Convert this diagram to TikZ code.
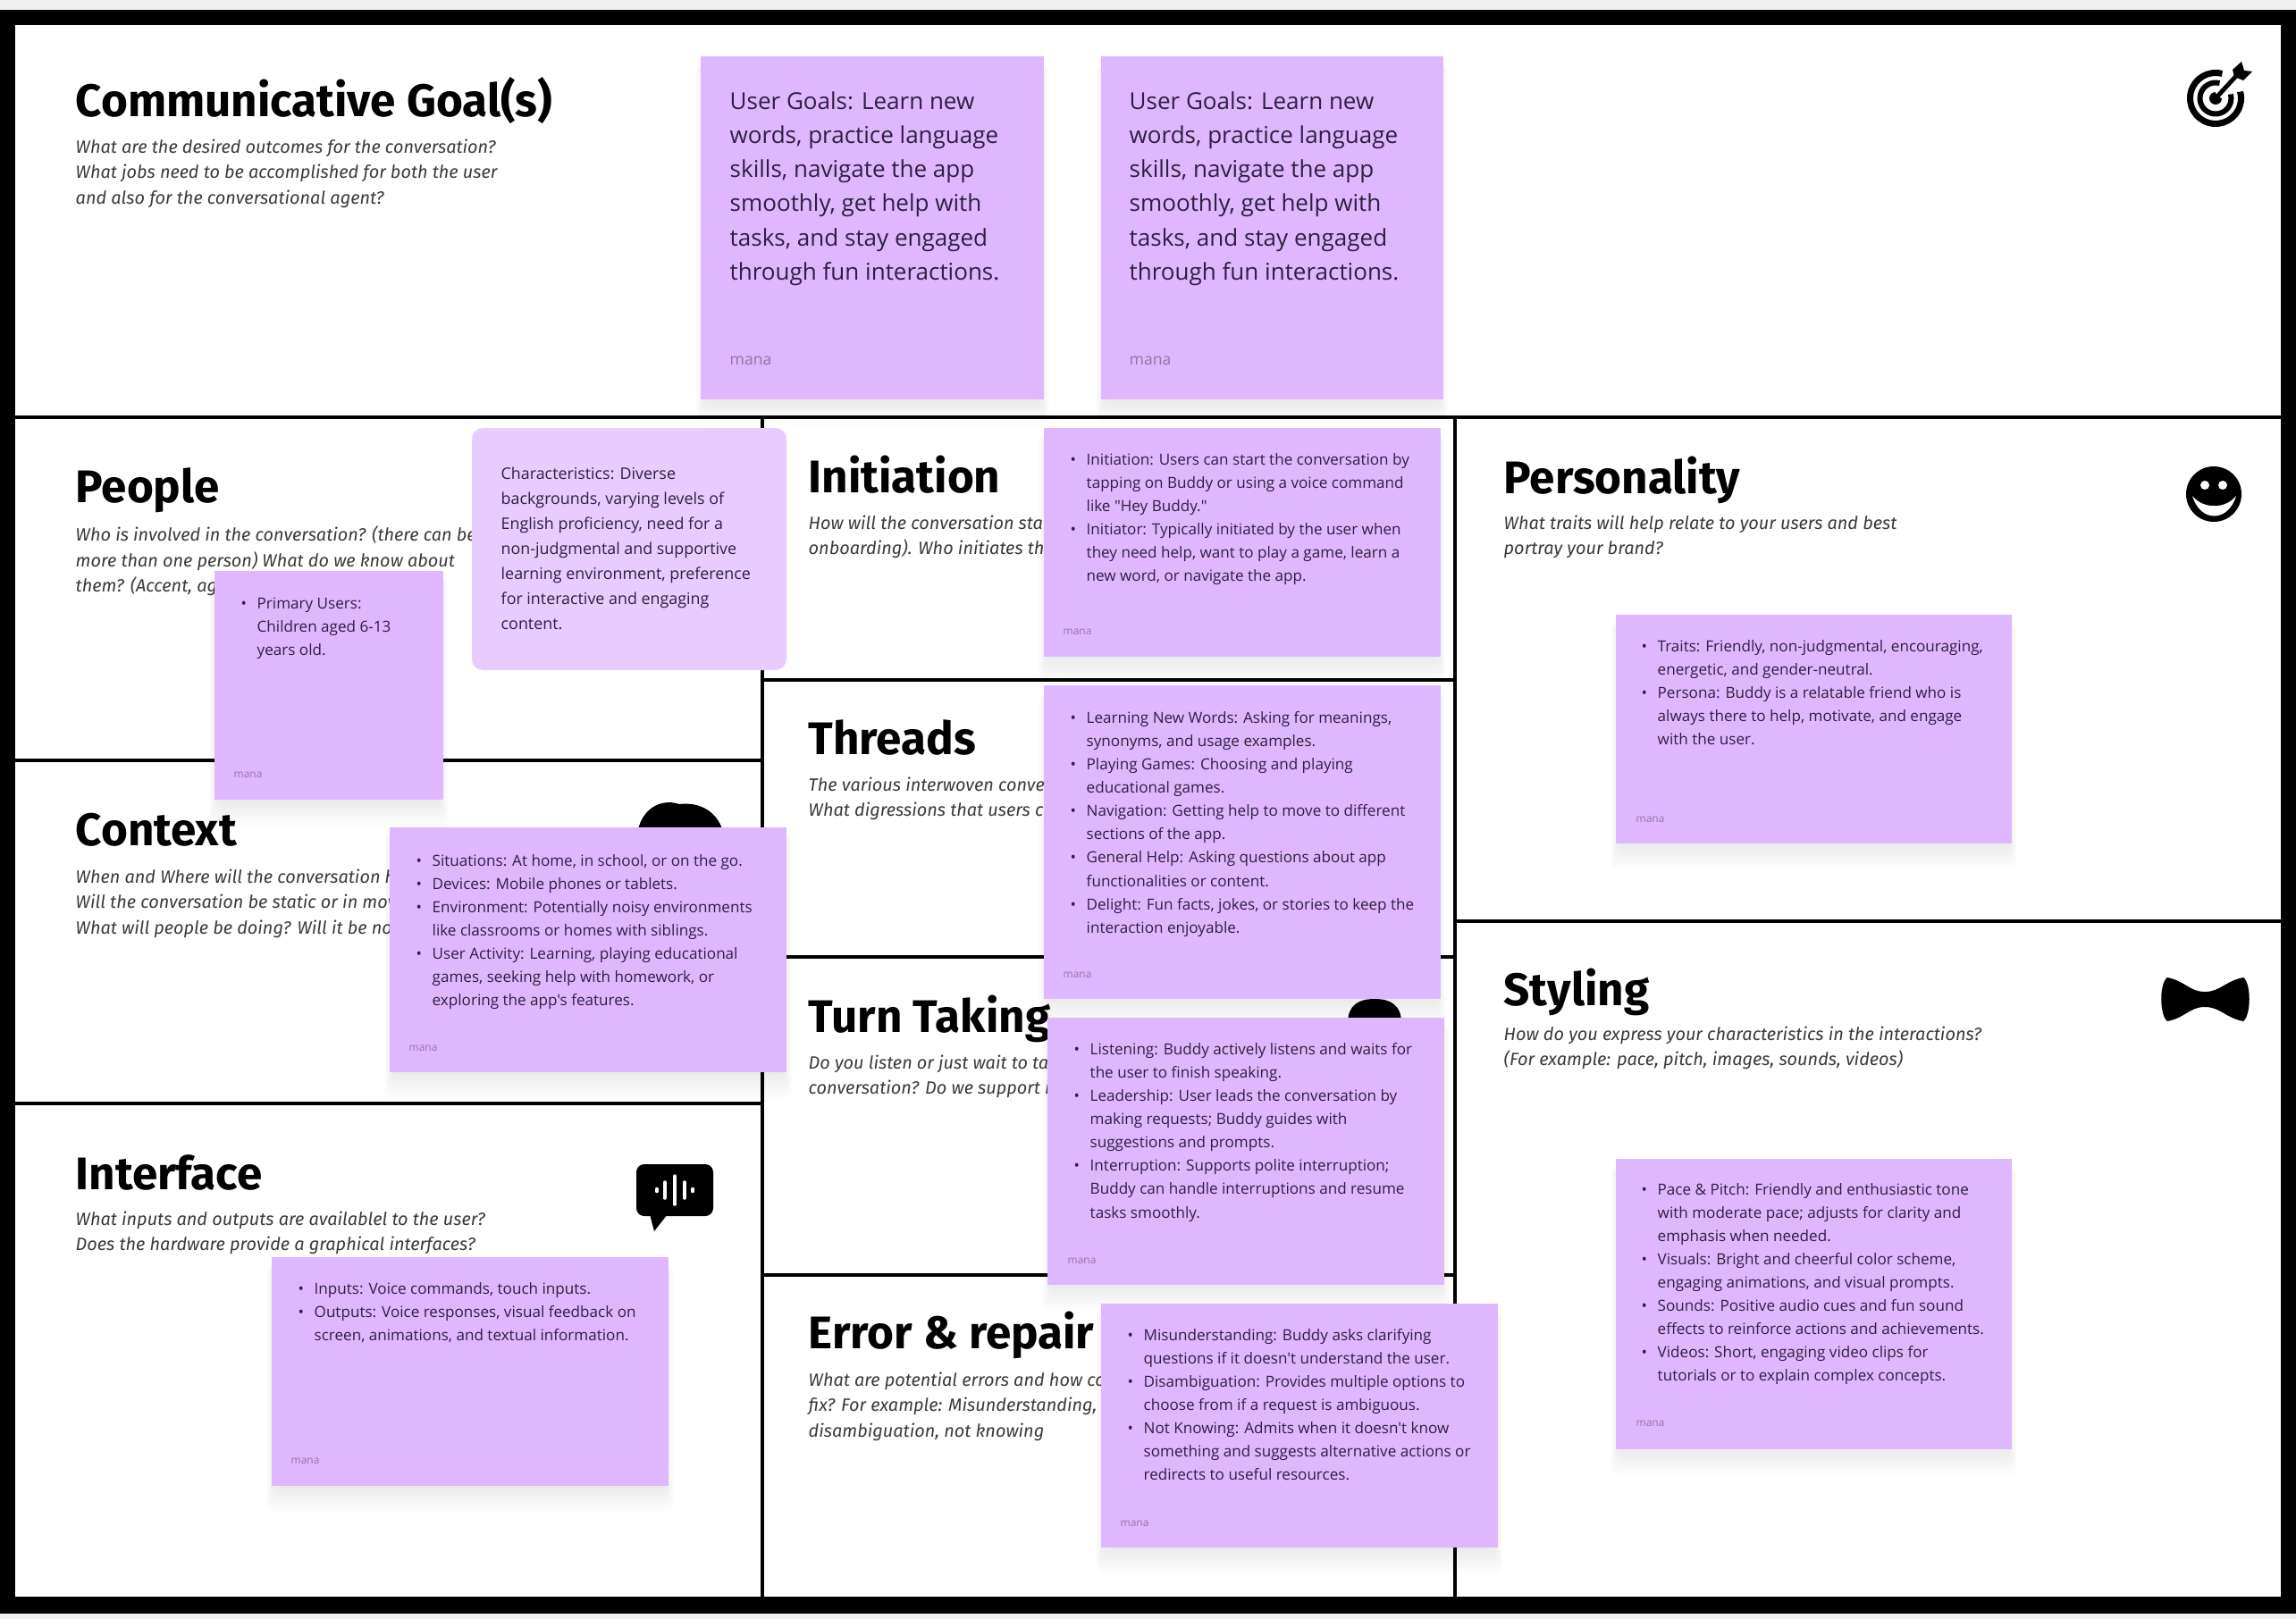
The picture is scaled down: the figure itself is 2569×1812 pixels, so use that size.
\documentclass[tikz,border=0pt]{standalone}
\usepackage{fontspec}
\newfontfamily\notefont{Open Sans}
\newfontfamily\headfont{Fira Sans}
\usepackage{tikz}
\definecolor{notefill}{HTML}{DFB7FF}
\definecolor{notelight}{HTML}{E8CCFF}
\definecolor{noteink}{HTML}{2B2140}
\definecolor{manaink}{HTML}{8E7A9F}
\definecolor{askink}{HTML}{3A3A3A}
\newcommand{\bul}{\makebox[0pt][r]{\textbullet\hspace{3.3pt}}}

\begin{document}
\begin{tikzpicture}[x=0.01cm,y=-0.01cm,
  gridline/.style={line width=1.3pt, black},
  heading/.style={anchor=base west, inner sep=0pt, font=\headfont\bfseries\fontsize{14.55}{18}\selectfont},
  asking/.style={anchor=north west, inner sep=0pt, align=left, askink, font=\headfont\itshape\fontsize{5.66}{8.15}\selectfont},
  notetext/.style={anchor=north west, yshift=-0.3pt, inner sep=0pt, align=left, noteink, font=\notefont\fontsize{4.86}{7.4}\selectfont},
  loosetext/.style={anchor=north west, inner sep=0pt, align=left, noteink, font=\notefont\fontsize{5.08}{7.96}\selectfont},
  goaltext/.style={anchor=north west, inner sep=0pt, align=left, noteink, font=\notefont\fontsize{7.4}{10.85}\selectfont},
  bigmana/.style={anchor=west, yshift=-0.4pt, inner sep=0pt, manaink, font=\notefont\fontsize{5}{6}\selectfont},
  mana/.style={anchor=west, yshift=-0.3pt, inner sep=0pt, manaink, font=\notefont\fontsize{3.4}{4}\selectfont}]
\useasboundingbox (0,0) rectangle (2569,1812);
\fill[black!6] (0,0) rectangle (2569,1812);
\fill[black] (0,11) rectangle (2569,1806);
\fill[white] (17,28) rectangle (2552,1787);

% the grid of the canvas
\draw[gridline] (17,467)--(2552,467);
\draw[gridline] (853,467)--(853,1787);
\draw[gridline] (1628,467)--(1628,1787);
\draw[gridline] (17,851)--(853,851);
\draw[gridline] (17,1235)--(853,1235);
\draw[gridline] (853,761)--(1628,761);
\draw[gridline] (853,1071)--(1628,1071);
\draw[gridline] (853,1427)--(1628,1427);
\draw[gridline] (1628,1031)--(2552,1031);

% headings
\node[heading] (goalhead) at (84,130) {Communicative Goal(s)};
\node[heading] (peoplehead) at (84,562) {People};
\node[heading] (contexthead) at (84,946) {Context};
\node[heading] (interfacehead) at (84,1331) {Interface};
\node[heading] (inithead) at (904,551) {Initiation};
\node[heading] (threadshead) at (904,844) {Threads};
\node[heading] (turnhead) at (904,1155) {Turn Taking};
\node[heading] (errorhead) at (904,1509) {Error \& repair};
\node[heading] (personhead) at (1682,552) {Personality};
\node[heading] (stylehead) at (1682,1125) {Styling};

\node[asking] (goalask) at (84,155) {What are the desired outcomes for the conversation?\\What jobs need to be accomplished for both the user\\and also for the conversational agent?};
\node[asking] (peopleask) at (84,588) {Who is involved in the conversation? (there can be\\more than one person) What do we know about\\them? (Accent, ag};
\node[asking] (contextask) at (84,972) {When and Where will the conversation h\\Will the conversation be static or in mov\\What will people be doing? Will it be noi};
\node[asking] (interfaceask) at (84,1355) {What inputs and outputs are availablel to the user?\\Does the hardware provide a graphical interfaces?};
\node[asking] (initask) at (904,576) {How will the conversation star\\onboarding). Who initiates the};
\node[asking] (threadsask) at (904,869) {The various interwoven conver\\What digressions that users ca};
\node[asking] (turnask) at (904,1180) {Do you listen or just wait to talk\\conversation? Do we support in};
\node[asking] (errorask) at (904,1535) {What are potential errors and how co\\fix? For example: Misunderstanding,\\disambiguation, not knowing};
\node[asking] (personask) at (1682,576) {What traits will help relate to your users and best\\portray your brand?};
\node[asking] (styleask) at (1682,1148) {How do you express your characteristics in the interactions?\\(For example: pace, pitch, images, sounds, videos)};

% icons
\draw[line width=2pt] (2479,110) ++(-75:28.5) arc[start angle=-75,end angle=-375,radius=28.5];
\draw[line width=1.7pt] (2479,110) ++(-75:17.5) arc[start angle=-75,end angle=-375,radius=17.5];
\fill (2479,110) circle[radius=7];
\draw[white, line width=2.6pt] (2482,107)--(2503,84);
\draw[line width=1.4pt] (2479,110)--(2503,84);
\fill (2508,69)--(2511,79)--(2520,80)--(2510,90)--(2500,86)--(2498,78)--cycle;

\fill (2477,553) circle[radius=31];
\fill[white] (2467,543) circle[radius=5];
\fill[white] (2487,543) circle[radius=5];
\fill[white] (2453,555) .. controls (2462,585) and (2493,585) .. (2502,555) .. controls (2490,570) and (2465,570) .. cycle;

\fill (2467,1110) .. controls (2450,1110) and (2445,1098) .. (2425,1094) .. controls (2416,1100) and (2416,1136) .. (2425,1143) .. controls (2445,1139) and (2450,1127) .. (2467,1127) .. controls (2484,1127) and (2490,1139) .. (2510,1143) .. controls (2519,1136) and (2519,1100) .. (2510,1094) .. controls (2490,1098) and (2484,1110) .. cycle;

\fill[rounded corners=2.5pt] (712,1303) rectangle (798,1361);
\fill (726,1355)--(732,1378)--(750,1355)--cycle;
\foreach \xbar/\hbar in {735/1.5,744/9,755/16,766/9,775/1.5}
  \draw[white, line width=1pt, line cap=round] (\xbar,1332-\hbar)--(\xbar,1332+\hbar);

\fill (713,935) .. controls (716,905) and (740,893) .. (760,900) .. controls (785,897) and (805,910) .. (810,935) -- cycle;
\fill (1508,1145) .. controls (1508,1125) and (1520,1118) .. (1538,1118) .. controls (1556,1118) and (1568,1125) .. (1568,1145) -- cycle;

% shadows, then the notes
\foreach \xa/\ya/\xb/\yb in {784/63/1168/447, 1232/63/1615/447, 240/639/496/895, 436/926/880/1200, 304/1407/748/1663, 1168/479/1612/735, 1168/767/1612/1118, 1172/1139/1616/1438, 1232/1459/1676/1732, 1808/688/2251/944, 1808/1297/2251/1622}
  \foreach \i in {1,...,10}
    \fill[black, opacity=0.007, rounded corners=2pt] (\xa+4-\i,\ya+10) rectangle (\xb-4+\i,\yb+3*\i);

\fill[notefill] (784,63) rectangle (1168,447);
\fill[notefill] (1232,63) rectangle (1615,447);
\fill[notelight, rounded corners=3.5pt] (528,479) rectangle (880,750);
\fill[notefill] (240,639) rectangle (496,895);
\fill[notefill] (436,926) rectangle (880,1200);
\fill[notefill] (304,1407) rectangle (748,1663);
\fill[notefill] (1168,479) rectangle (1612,735);
\fill[notefill] (1168,767) rectangle (1612,1118);
\fill[notefill] (1172,1139) rectangle (1616,1438);
\fill[notefill] (1232,1459) rectangle (1676,1732);
\fill[notefill] (1808,688) rectangle (2251,944);
\fill[notefill] (1808,1297) rectangle (2251,1622);

% what the notes say
\node[goaltext] (goalone) at (816,102) {User Goals: Learn new\\words, practice language\\skills, navigate the app\\smoothly, get help with\\tasks, and stay engaged\\through fun interactions.};
\node[bigmana] (goalonemana) at (816,402) {mana};
\node[goaltext] (goaltwo) at (1263,102) {User Goals: Learn new\\words, practice language\\skills, navigate the app\\smoothly, get help with\\tasks, and stay engaged\\through fun interactions.};
\node[bigmana] (goaltwomana) at (1263,402) {mana};

\node[loosetext] (traits) at (560,522) {Characteristics: Diverse\\backgrounds, varying levels of\\English proficiency, need for a\\non-judgmental and supportive\\learning environment, preference\\for interactive and engaging\\content.};

\node[notetext] (primary) at (287,667) {\bul Primary Users:\\Children aged 6-13\\years old.};
\node[mana] (primarymana) at (261,866) {mana};

\node[notetext] (situation) at (483,955) {\bul Situations: At home, in school, or on the go.\\\bul Devices: Mobile phones or tablets.\\\bul Environment: Potentially noisy environments\\like classrooms or homes with siblings.\\\bul User Activity: Learning, playing educational\\games, seeking help with homework, or\\exploring the app's features.};
\node[mana] (situationmana) at (457,1172) {mana};

\node[notetext] (inputs) at (351,1434) {\bul Inputs: Voice commands, touch inputs.\\\bul Outputs: Voice responses, visual feedback on\\screen, animations, and textual information.};
\node[mana] (inputsmana) at (325,1634) {mana};

\node[notetext] (starting) at (1215,506) {\bul Initiation: Users can start the conversation by\\tapping on Buddy or using a voice command\\like "Hey Buddy."\\\bul Initiator: Typically initiated by the user when\\they need help, want to play a game, learn a\\new word, or navigate the app.};
\node[mana] (startingmana) at (1189,706) {mana};

\node[notetext] (topics) at (1215,795) {\bul Learning New Words: Asking for meanings,\\synonyms, and usage examples.\\\bul Playing Games: Choosing and playing\\educational games.\\\bul Navigation: Getting help to move to different\\sections of the app.\\\bul General Help: Asking questions about app\\functionalities or content.\\\bul Delight: Fun facts, jokes, or stories to keep the\\interaction enjoyable.};
\node[mana] (topicsmana) at (1189,1090) {mana};

\node[notetext] (listening) at (1219,1166) {\bul Listening: Buddy actively listens and waits for\\the user to finish speaking.\\\bul Leadership: User leads the conversation by\\making requests; Buddy guides with\\suggestions and prompts.\\\bul Interruption: Supports polite interruption;\\Buddy can handle interruptions and resume\\tasks smoothly.};
\node[mana] (listeningmana) at (1194,1410) {mana};

\node[notetext] (repairs) at (1279,1486) {\bul Misunderstanding: Buddy asks clarifying\\questions if it doesn't understand the user.\\\bul Disambiguation: Provides multiple options to\\choose from if a request is ambiguous.\\\bul Not Knowing: Admits when it doesn't know\\something and suggests alternative actions or\\redirects to useful resources.};
\node[mana] (repairsmana) at (1253,1704) {mana};

\node[notetext] (persona) at (1854,715) {\bul Traits: Friendly, non-judgmental, encouraging,\\energetic, and gender-neutral.\\\bul Persona: Buddy is a relatable friend who is\\always there to help, motivate, and engage\\with the user.};
\node[mana] (personamana) at (1830,916) {mana};

\node[notetext] (looks) at (1854,1323) {\bul Pace \& Pitch: Friendly and enthusiastic tone\\with moderate pace; adjusts for clarity and\\emphasis when needed.\\\bul Visuals: Bright and cheerful color scheme,\\engaging animations, and visual prompts.\\\bul Sounds: Positive audio cues and fun sound\\effects to reinforce actions and achievements.\\\bul Videos: Short, engaging video clips for\\tutorials or to explain complex concepts.};
\node[mana] (looksmana) at (1830,1592) {mana};
\end{tikzpicture}
\end{document}
